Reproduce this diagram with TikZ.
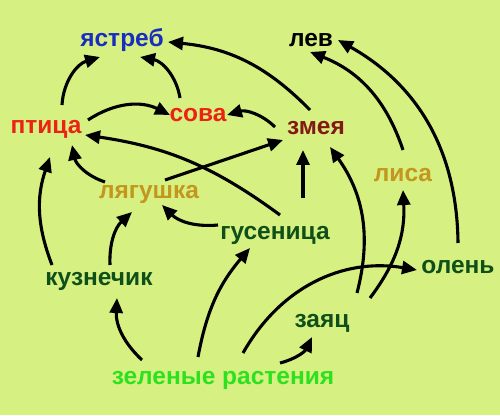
\documentclass[tikz,border=0pt]{standalone}
\usepackage{fontspec}
\setmainfont{Liberation Sans}
\usetikzlibrary{arrows.meta}

\definecolor{fond}{RGB}{215,240,130}
\definecolor{bleu}{RGB}{25,45,190}
\definecolor{rouge}{RGB}{235,35,20}
\definecolor{brun}{RGB}{130,25,20}
\definecolor{ocre}{RGB}{195,150,30}
\definecolor{vertfonce}{RGB}{15,80,25}
\definecolor{vertclair}{RGB}{45,225,30}

\begin{document}
\begin{tikzpicture}[
    x=1pt, y=1pt,
    animal/.style={font=\fontsize{24.5}{24.5}\selectfont\bfseries, inner sep=0pt, text height=12.7pt, text depth=0pt},
    arrow/.style={->, >={Triangle[length=15pt, width=13pt]}, line width=3.1pt}
]

\fill[fond] (0,0) rectangle (500,415);
\useasboundingbox (0,0) rectangle (500,415);

% Predateurs
\node[animal, bleu] (hawk) at (122,375) {ястреб};
\node[animal] (lion) at (311,375) {лев};
\node[animal, rouge] (bird) at (46,288) {птица};
\node[animal, rouge] (owl) at (198,300) {сова};
\node[animal, brun] (snake) at (316,287) {змея};
\node[animal, ocre] (fox) at (403,240) {лиса};
\node[animal, ocre] (frog) at (149,223) {лягушка};

% Herbivores
\node[animal, vertfonce] (caterpillar) at (275,182) {гусеница};
\node[animal, vertfonce] (grasshopper) at (99,136) {кузнечик};
\node[animal, vertfonce] (deer) at (458,148) {олень};
\node[animal, vertfonce] (hare) at (322,94) {заяц};
\node[animal, vertclair] (plants) at (223,37) {зеленые растения};

% Chaine alimentaire
\draw[arrow] ([shift={(16,22)}]bird.center) to[bend left=35] ([shift={(-22,-17)}]hawk.center);
\draw[arrow] ([shift={(-18,17)}]owl.center) to[bend right=35] ([shift={(18,-17)}]hawk.center);
\draw[arrow] ([shift={(42,7)}]bird.center) to[bend left=30] ([shift={(-28,0)}]owl.center);
\draw[arrow] ([shift={(-41,1)}]snake.center) to[bend right=30] ([shift={(29,0)}]owl.center);
\draw[arrow] ([shift={(-6,18)}]snake.center) to[bend right=20] ([shift={(46,-2)}]hawk.center);
\draw[arrow] ([shift={(0,25)}]fox.center) to[bend right=25] ([shift={(-1,-12)}]lion.center);
\draw[arrow] ([shift={(0,24)}]deer.center) to[bend right=30] ([shift={(27,0)}]lion.center);
\draw[arrow] ([shift={(-44,10)}]frog.center) to[bend left=30] ([shift={(26,-18)}]bird.center);
\draw[arrow] ([shift={(-47,14)}]grasshopper.center) to[bend left=20] ([shift={(4,-30)}]bird.center);
\draw[arrow] ([shift={(5,18)}]caterpillar.center) to[bend right=14] ([shift={(39,-8)}]bird.center);
\draw[arrow] ([shift={(16,12)}]frog.center) -- ([shift={(-33,-12)}]snake.center);
\draw[arrow] ([shift={(28,35)}]caterpillar.center) -- ([shift={(-13,-22)}]snake.center);
\draw[arrow] ([shift={(35,28)}]hare.center) to[bend right=25] ([shift={(14,-19)}]snake.center);
\draw[arrow] ([shift={(48,23)}]hare.center) to[bend right=20] ([shift={(0,-15)}]fox.center);
\draw[arrow] ([shift={(20,25)}]plants.center) to[bend left=35] ([shift={(-41,-3)}]deer.center);
\draw[arrow] ([shift={(-25,21)}]plants.center) to[bend left=15] ([shift={(-25,-15)}]caterpillar.center);
\draw[arrow] ([shift={(-81,18)}]plants.center) to[bend left=25] ([shift={(18,-19)}]grasshopper.center);
\draw[arrow] ([shift={(57,15)}]plants.center) to[bend right=25] ([shift={(-10,-16)}]hare.center);
\draw[arrow] ([shift={(11,14)}]grasshopper.center) to[bend left=25] ([shift={(-17,-20)}]frog.center);
\draw[arrow] ([shift={(-57,8)}]caterpillar.center) to[bend left=25] ([shift={(13,-13)}]frog.center);

\end{tikzpicture}
\end{document}
